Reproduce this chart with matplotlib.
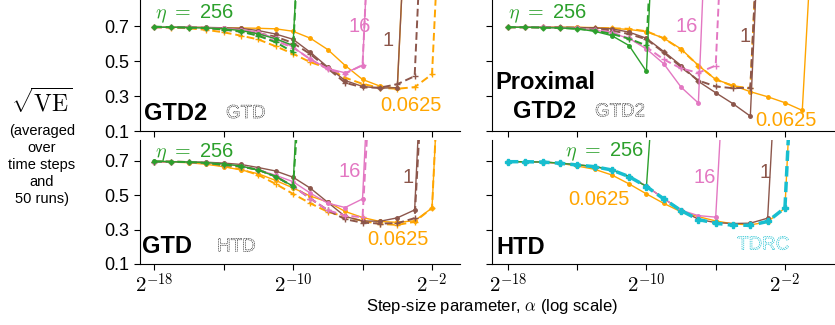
import matplotlib.pyplot as plt
import matplotlib.patheffects as pe

plt.rcParams['font.family'] = ['Liberation Sans', 'DejaVu Sans']
plt.rcParams['mathtext.fontset'] = 'cm'

# step sizes are powers of two, alpha = 2**exp
exps = list(range(-18, 1))
etas = ['0.0625', '1', '16', '256']

# sqrt(VE) for each algorithm and eta, starting at 2^-18;
# the last value of each list is the diverged point (off the chart)
gtd2_256 = [0.694, 0.694, 0.692, 0.690, 0.685, 0.675, 0.656, 0.628, 0.590, 2.6]
gtd2_16 = [0.694, 0.694, 0.693, 0.691, 0.687, 0.680, 0.665, 0.630, 0.580, 0.510, 0.458, 0.433, 0.475, 2.6]
gtd2_1 = [0.694, 0.694, 0.694, 0.693, 0.691, 0.688, 0.675, 0.655, 0.625, 0.550, 0.466, 0.389, 0.355, 0.345, 0.348, 2.4]
gtd2_0625 = [0.694, 0.694, 0.694, 0.692, 0.690, 0.690, 0.688, 0.685, 0.671, 0.631, 0.566, 0.475, 0.395, 0.357, 0.345, 2.4]

gtd_256 = [0.698, 0.694, 0.692, 0.689, 0.681, 0.669, 0.645, 0.608, 0.552, 2.6]
gtd_16 = [0.694, 0.694, 0.692, 0.688, 0.680, 0.668, 0.648, 0.615, 0.578, 0.511, 0.453, 0.428, 0.478, 2.6]
gtd_1 = [0.694, 0.694, 0.693, 0.691, 0.686, 0.678, 0.660, 0.640, 0.604, 0.540, 0.458, 0.376, 0.350, 0.348, 0.368, 0.414, 2.6]
gtd_0625 = [0.694, 0.692, 0.688, 0.679, 0.665, 0.646, 0.624, 0.585, 0.542, 0.494, 0.460, 0.405, 0.370, 0.347, 0.342, 0.351, 0.425, 2.5]

prox_256 = [0.694, 0.694, 0.692, 0.690, 0.685, 0.671, 0.646, 0.589, 0.441, 2.6]
prox_16 = [0.694, 0.694, 0.693, 0.691, 0.687, 0.678, 0.660, 0.630, 0.570, 0.485, 0.351, 0.260, 2.7]
prox_1 = [0.694, 0.694, 0.694, 0.693, 0.692, 0.690, 0.685, 0.666, 0.631, 0.555, 0.475, 0.384, 0.319, 0.256, 0.185, 2.4]
prox_0625 = [0.694, 0.694, 0.694, 0.694, 0.694, 0.692, 0.688, 0.681, 0.669, 0.631, 0.570, 0.475, 0.395, 0.361, 0.325, 0.296, 0.262, 0.218, 2.0]

htd_256 = [0.694, 0.694, 0.692, 0.686, 0.676, 0.666, 0.647, 0.608, 0.550, 2.0]
htd_16 = [0.694, 0.694, 0.692, 0.686, 0.676, 0.666, 0.647, 0.608, 0.552, 0.480, 0.412, 0.381, 0.372, 2.2]
htd_1 = [0.694, 0.694, 0.692, 0.686, 0.676, 0.666, 0.647, 0.608, 0.552, 0.480, 0.412, 0.360, 0.340, 0.335, 0.337, 0.366, 2.2]
htd_0625 = [0.694, 0.694, 0.692, 0.685, 0.669, 0.650, 0.617, 0.565, 0.507, 0.452, 0.403, 0.375, 0.350, 0.333, 0.327, 0.345, 0.425, 2.5]

tdrc = [0.694, 0.694, 0.692, 0.685, 0.675, 0.665, 0.646, 0.607, 0.550, 0.478, 0.410, 0.358, 0.337, 0.325, 0.325, 0.347, 0.426, 2.5]

gtd2 = dict(zip(etas, [gtd2_0625, gtd2_1, gtd2_16, gtd2_256]))
gtd = dict(zip(etas, [gtd_0625, gtd_1, gtd_16, gtd_256]))
prox = dict(zip(etas, [prox_0625, prox_1, prox_16, prox_256]))
htd = dict(zip(etas, [htd_0625, htd_1, htd_16, htd_256]))

colors = {'0.0625': '#ffa500', '1': '#8c564b', '16': '#e377c2', '256': '#2ca02c'}
cyan = '#17becf'

W, H = 835, 325
fig = plt.figure(figsize=(W / 100, H / 100), dpi=100)


def add_axes(x0, x1, y0, y1):
    # pixel box -> figure fraction
    return fig.add_axes([x0 / W, 1 - y1 / H, (x1 - x0) / W, (y1 - y0) / H])


ax_tl = add_axes(140, 460, 0, 131)
ax_tr = add_axes(492, 835, 0, 131)
ax_bl = add_axes(140, 460, 140, 264)
ax_br = add_axes(492, 835, 140, 264)


def xs(vals):
    return [2.0 ** e for e in exps[:len(vals)]]


def draw(ax, solid, dashed):
    for eta in etas:
        if dashed is not None:
            v = dashed[eta]
            ax.plot(xs(v), v, color=colors[eta], ls=(0, (4, 2)), lw=1.4,
                    marker='+', ms=4, mew=1)
        v = solid[eta]
        ax.plot(xs(v), v, color=colors[eta], lw=1.0, marker='o', ms=2.5)


draw(ax_tl, gtd2, gtd)
draw(ax_tr, prox, gtd2)
draw(ax_bl, gtd, htd)
draw(ax_br, htd, None)
ax_br.plot(xs(tdrc), tdrc, color=cyan, ls=(0, (3, 1.5)), lw=2.5, marker='P', ms=4)

tick_pos = [2.0 ** -18, 2.0 ** -14, 2.0 ** -10, 2.0 ** -6, 2.0 ** -2]
tick_lab = [r'$2^{-18}$', '', r'$2^{-10}$', '', r'$2^{-2}$']

for ax in [ax_tl, ax_tr, ax_bl, ax_br]:
    ax.set_xscale('log', base=2)
    ax.spines['top'].set_visible(False)
    ax.spines['right'].set_visible(False)
    ax.set_yticks([0.1, 0.3, 0.5, 0.7])
    ax.set_xticks(tick_pos)
    ax.minorticks_off()
    ax.tick_params(length=4, width=0.8, labelsize=13)
    ax.tick_params(axis='x', pad=2)

ax_tl.set_xlim(2.0 ** -18.81, 2.0 ** -0.39)
ax_bl.set_xlim(2.0 ** -18.81, 2.0 ** -0.39)
ax_tr.set_xlim(2.0 ** -18.92, 2.0 ** 0.89)
ax_br.set_xlim(2.0 ** -18.92, 2.0 ** 0.89)
ax_tl.set_ylim(0.1, 0.85)
ax_tr.set_ylim(0.1, 0.85)
ax_bl.set_ylim(0.1, 0.82)
ax_br.set_ylim(0.1, 0.82)

for ax in [ax_tl, ax_tr]:
    ax.set_xticklabels([])
for ax in [ax_bl, ax_br]:
    ax.set_xticklabels(tick_lab, fontsize=15)
for ax in [ax_tr, ax_br]:
    ax.set_yticklabels([])
for ax in [ax_tl, ax_bl]:
    ax.set_yticklabels(['0.1', '0.3', '0.5', '0.7'])

outline = [pe.PathPatchEffect(edgecolor='k', facecolor='white', linewidth=0.4, linestyle=(0, (2, 1.2)))]
outline_c = [pe.PathPatchEffect(edgecolor=cyan, facecolor='white', linewidth=0.5, linestyle=(0, (2, 1.2)))]


def label(ax, e, y, s, c, ha='left', **kw):
    ax.text(2.0 ** e, y, s, color=c, ha=ha, va='center', fontsize=14.5, **kw)


eta_txt = r'$\eta\ =\ $256'

# GTD2 panel
label(ax_tl, -17.94, 0.77, eta_txt, colors['256'])
label(ax_tl, -6.83, 0.70, '16', colors['16'])
label(ax_tl, -4.53, 0.616, '1', colors['1'], ha='center')
label(ax_tl, -5.0, 0.244, '0.0625', colors['0.0625'])
ax_tl.text(2.0 ** -18.58, 0.2, 'GTD2', fontsize=17, fontweight='bold', va='center')
ax_tl.text(2.0 ** -13.86, 0.2, 'GTD', fontsize=13.5, va='center', path_effects=outline)

# Proximal GTD2 panel
label(ax_tr, -18.0, 0.77, eta_txt, colors['256'])
label(ax_tr, -8.35, 0.70, '16', colors['16'])
label(ax_tr, -4.3, 0.64, '1', colors['1'], ha='center')
label(ax_tr, -3.72, 0.16, '0.0625', colors['0.0625'])
ax_tr.text(2.0 ** -18.75, 0.38, 'Proximal', fontsize=17, fontweight='bold', va='center')
ax_tr.text(2.0 ** -17.7, 0.21, 'GTD2', fontsize=17, fontweight='bold', va='center')
ax_tr.text(2.0 ** -12.97, 0.21, 'GTD2', fontsize=13.5, va='center', path_effects=outline)

# GTD panel
label(ax_bl, -17.94, 0.745, eta_txt, colors['256'])
label(ax_bl, -7.41, 0.635, '16', colors['16'])
label(ax_bl, -3.38, 0.60, '1', colors['1'], ha='center')
label(ax_bl, -5.74, 0.24, '0.0625', colors['0.0625'])
ax_bl.text(2.0 ** -18.69, 0.2, 'GTD', fontsize=17, fontweight='bold', va='center')
ax_bl.text(2.0 ** -14.37, 0.2, 'HTD', fontsize=13.5, va='center', path_effects=outline)

# HTD panel
label(ax_br, -14.7, 0.75, eta_txt, colors['256'])
label(ax_br, -7.3, 0.60, '16', colors['16'])
label(ax_br, -3.14, 0.63, '1', colors['1'], ha='center')
label(ax_br, -14.53, 0.472, '0.0625', colors['0.0625'])
ax_br.text(2.0 ** -18.64, 0.194, 'HTD', fontsize=17, fontweight='bold', va='center')
ax_br.text(2.0 ** -4.76, 0.21, 'TDRC', fontsize=13.5, va='center', path_effects=outline_c)

fig.text(42 / W, 1 - 102 / H, r'$\sqrt{\mathrm{VE}}$', fontsize=17, ha='center', va='center')
fig.text(42 / W, 1 - 165 / H, '(averaged\nover\ntime steps\nand\n50 runs)', fontsize=10.5,
         ha='center', va='center', linespacing=1.25)
fig.text(492 / W, 1 - 307 / H, r'Step-size parameter, $\alpha$ (log scale)', fontsize=12,
         ha='center', va='center')

fig.savefig('out.png', dpi=100)
